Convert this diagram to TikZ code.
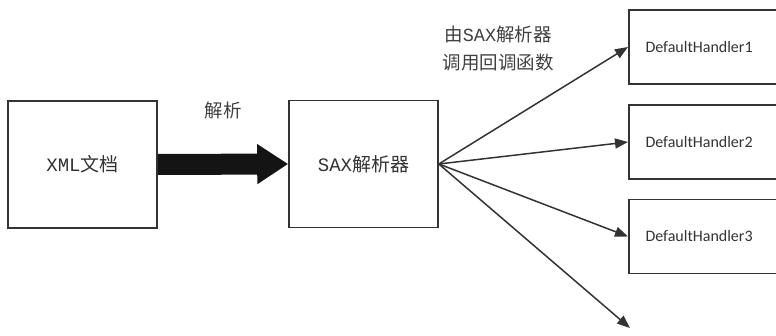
\documentclass[tikz,border=0pt]{standalone}
\usepackage{fontspec}
\setmainfont{Noto Sans CJK SC}
\newfontfamily\cjk{Noto Sans CJK SC}
\newfontfamily\mymono{Liberation Mono}
\newfontfamily\mycal{Carlito}
\usetikzlibrary{arrows.meta,calc}
\begin{document}
\begin{tikzpicture}[x=1pt,y=1pt,
  box/.style={draw=black!80, line width=1.6pt, rectangle, inner sep=0pt},
  hbox/.style={box, minimum width=172pt, minimum height=74pt, anchor=west},
  htext/.style={font=\mycal\fontsize{16}{18}\selectfont, text=black!80, anchor=west},
  lbl/.style={font=\cjk\fontsize{18.5}{28}\selectfont, text=black!75, align=center},
  conn/.style={draw=black!80, line width=1.5pt, -{Triangle[length=13pt,width=10pt]}}
]
\useasboundingbox (0,0) rectangle (776,336);
\node[box, minimum width=149pt, minimum height=127pt, font=\fontsize{19}{21}\selectfont, text=black!80] (xml) at (82.5,171.5) {{\mymono XML}\cjk 文档};
\node[box, minimum width=149pt, minimum height=127pt, font=\fontsize{19}{21}\selectfont, text=black!80] (sax) at (363.5,172) {{\mymono SAX}\cjk 解析器};
\draw[line width=21pt, draw=black!92, -{Triangle[length=31pt,width=38pt,fill=black!92]}] (xml.east) -- (sax.west);
\node[lbl] (jx) at (223,226) {解析};
\node[lbl] (cb) at (498,287) {由{\mymono SAX}解析器\\调用回调函数};
\node[hbox] (h1) at (628,289) {};
\node[hbox] (h2) at (628,194) {};
\node[hbox] (h3) at (628,99.5) {};
\node[htext] (t1) at ([xshift=14pt]h1.west) {DefaultHandler1};
\node[htext] (t2) at ([xshift=14pt]h2.west) {DefaultHandler2};
\node[htext] (t3) at ([xshift=14pt]h3.west) {DefaultHandler3};
\coordinate (e4) at (630,8);
\draw[conn] (sax.east) -- (h1.west);
\draw[conn] (sax.east) -- (h2.west);
\draw[conn] (sax.east) -- (h3.west);
\draw[conn] (sax.east) -- (e4);
\end{tikzpicture}
\end{document}
